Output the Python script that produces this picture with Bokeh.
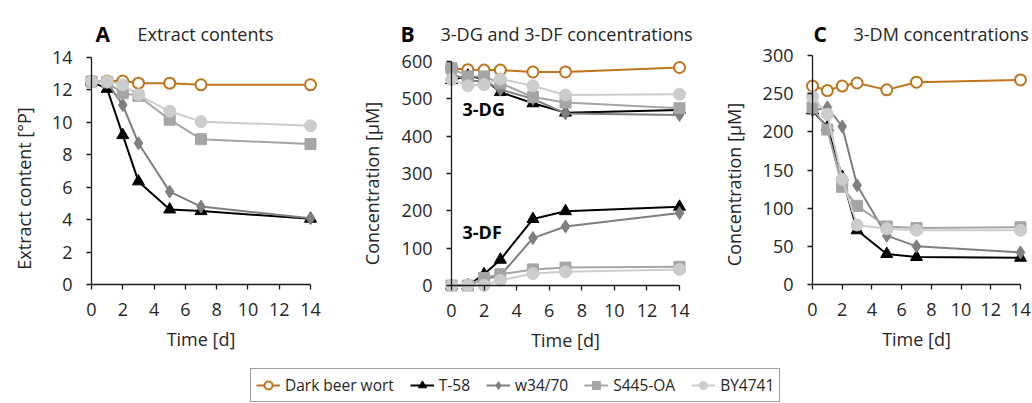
import math
from bokeh.plotting import figure
from bokeh.models import Range1d, LinearAxis, FixedTicker, Label, Legend, LegendItem
from bokeh.layouts import column, row
from bokeh.embed import file_html
from bokeh.resources import INLINE

# ---------------- data ----------------
time_d = [0, 1, 2, 3, 5, 7, 14]
series_names = ["Dark beer wort", "T-58", "w34/70", "S445-OA", "BY4741"]
x_ticks = [0, 2, 4, 6, 8, 10, 12, 14]

# A: extract content [°P]
extract_dark = [12.5, 12.53, 12.53, 12.4, 12.4, 12.3, 12.3]
extract_t58 = [12.5, 12.05, 9.2, 6.35, 4.62, 4.52, 4.05]
extract_w34 = [12.5, 12.45, 11.05, 8.7, 5.72, 4.8, 4.08]
extract_s445 = [12.5, 12.45, 11.78, 11.62, 10.15, 8.95, 8.65]
extract_by = [12.5, 12.5, 12.3, 11.68, 10.67, 10.03, 9.78]
extract_ticks = [0, 2, 4, 6, 8, 10, 12, 14]

# B: 3-DG and 3-DF [µM]
dg_dark = [582, 578, 577, 577, 572, 572, 584]
dg_t58 = [550, 562, 553, 518, 488, 463, 470]
dg_w34 = [568, 548, 548, 525, 500, 461, 457]
dg_s445 = [582, 560, 560, 542, 505, 490, 475]
dg_by = [552, 535, 538, 553, 535, 510, 512]
df_t58 = [0, 0, 30, 69, 178, 199, 211]
df_w34 = [0, 0, 17, 27, 127, 158, 194]
df_s445 = [0, 0, 20, 30, 43, 48, 50]
df_by = [0, 0, 0, 14, 32, 37, 43]
conc_b_ticks = [0, 100, 200, 300, 400, 500, 600]

# C: 3-DM [µM]
dm_dark = [260, 254, 260, 264, 255, 265, 268]
dm_t58 = [228, 206, 141, 71, 40, 36, 35]
dm_w34 = [228, 232, 207, 130, 64, 50, 42]
dm_s445 = [232, 203, 128, 103, 76, 74, 75]
dm_by = [246, 223, 138, 78, 73, 71, 71]
conc_c_ticks = [0, 50, 100, 150, 200, 250, 300]

# ---------------- styles ----------------
FONT = "Open Sans"
TXT = "#262626"
AX = "#1a1a1a"
FS = "18px"
STYLES = {
    "Dark beer wort": dict(color="#C0741C", marker="circle", size=11, fill="white", lw=2),
    "T-58": dict(color="#000000", marker="triangle", size=12, fill="#000000", lw=1),
    "w34/70": dict(color="#7F7F7F", marker="diamond", size=13, fill="#7F7F7F", lw=1),
    "S445-OA": dict(color="#A5A5A5", marker="square", size=11, fill="#A5A5A5", lw=1),
    "BY4741": dict(color="#CCCCCC", marker="circle", size=12, fill="#CCCCCC", lw=1),
}


def add_series(p, x, y, name):
    s = STYLES[name]
    r1 = p.line(x, y, line_color=s["color"], line_width=2)
    r2 = p.scatter(x, y, marker=s["marker"], size=s["size"], fill_color=s["fill"],
                   line_color=s["color"], line_width=s["lw"])
    return r1, r2


def style_axis(ax, standoff):
    ax.axis_line_color = AX
    ax.axis_line_width = 1.3
    ax.major_tick_line_color = AX
    ax.major_tick_line_width = 1.3
    ax.major_tick_in = 0
    ax.major_tick_out = 5
    ax.minor_tick_line_color = None
    ax.major_label_text_font = FONT
    ax.major_label_text_font_size = FS
    ax.major_label_text_color = TXT
    ax.major_label_standoff = standoff
    ax.axis_label_text_font = FONT
    ax.axis_label_text_font_size = FS
    ax.axis_label_text_font_style = "normal"
    ax.axis_label_text_color = TXT
    ax.axis_label_standoff = 8


def make_panel(fig_left, fig_width, fig_height, x0px, x14px, ymax, ytoppx, y0px,
               yticks, ylabel, ylabel_x, ylabel_y, letter, letter_x, title, title_x, title_base):
    # the frame covers the whole figure; ranges chosen so data lands on the target pixels
    sx = (x14px - x0px) / 14.0
    sy = (y0px - ytoppx) / ymax
    xs = (fig_left - x0px) / sx
    xe = (fig_left + fig_width - x0px) / sx
    ye = y0px / sy
    ys = (y0px - fig_height) / sy
    p = figure(width=fig_width, height=fig_height,
               x_range=Range1d(xs, xe), y_range=Range1d(ys, ye),
               min_border=0, x_axis_location=None, y_axis_location=None,
               toolbar_location=None, output_backend="svg")
    p.grid.visible = False
    p.outline_line_color = None
    p.background_fill_color = "white"
    p.border_fill_color = "white"

    yax = LinearAxis(fixed_location=0, bounds=(0, ymax), ticker=FixedTicker(ticks=yticks))
    style_axis(yax, 14)
    p.add_layout(yax, "left")
    xax = LinearAxis(fixed_location=0, bounds=(0, 14), ticker=FixedTicker(ticks=x_ticks),
                     axis_label="Time [d]")
    style_axis(xax, 13)
    p.add_layout(xax, "below")

    def dx(px):
        return (px - x0px) / sx

    def dy(py):
        return (y0px - py) / sy

    p.add_layout(Label(x=dx(ylabel_x), y=dy(ylabel_y), text=ylabel, angle=90, angle_units="deg",
                       text_align="center", text_baseline="middle", text_font=FONT,
                       text_font_size=FS, text_color=TXT))
    p.add_layout(Label(x=dx(letter_x), y=dy(title_base), text=letter, text_align="left",
                       text_baseline="alphabetic", text_font=FONT, text_font_size="21px",
                       text_font_style="bold", text_color="#000000"))
    p.add_layout(Label(x=dx(title_x), y=dy(title_base), text=title, text_align="left",
                       text_baseline="alphabetic", text_font=FONT, text_font_size=FS,
                       text_color=TXT))
    return p, dx, dy


H = 350
pA, _, _ = make_panel(0, 350, H, 91, 310, 14, 56.7, 284, extract_ticks,
                      "Extract content [°P]", 23, 188, "A", 95, "Extract contents", 137, 33)
add_series(pA, time_d, extract_dark, "Dark beer wort")
add_series(pA, time_d, extract_t58, "T-58")
add_series(pA, time_d, extract_w34, "w34/70")
add_series(pA, time_d, extract_s445, "S445-OA")
add_series(pA, time_d, extract_by, "BY4741")

pB, bdx, bdy = make_panel(350, 365, H, 451, 679, 600, 61, 285, conc_b_ticks,
                          "Concentration [µM]", 371, 183, "B", 400, "3-DG and 3-DF concentrations", 440, 33)
add_series(pB, time_d, dg_dark, "Dark beer wort")
add_series(pB, time_d, dg_t58, "T-58")
add_series(pB, time_d, df_t58, "T-58")
add_series(pB, time_d, dg_w34, "w34/70")
add_series(pB, time_d, df_w34, "w34/70")
add_series(pB, time_d, dg_s445, "S445-OA")
add_series(pB, time_d, df_s445, "S445-OA")
add_series(pB, time_d, dg_by, "BY4741")
add_series(pB, time_d, df_by, "BY4741")
for txt, yy in [("3-DG", 108), ("3-DF", 231)]:
    pB.add_layout(Label(x=bdx(462), y=bdy(yy), text=txt, text_align="left", text_baseline="middle",
                        text_font=FONT, text_font_size=FS, text_font_style="bold",
                        text_color="#000000"))

pC, _, _ = make_panel(715, 317, H, 812, 1020, 300, 55, 284, conc_c_ticks,
                      "Concentration [µM]", 733, 184, "C", 813, "3-DM concentrations", 853, 33)
add_series(pC, time_d, dm_dark, "Dark beer wort")
add_series(pC, time_d, dm_t58, "T-58")
add_series(pC, time_d, dm_w34, "w34/70")
add_series(pC, time_d, dm_s445, "S445-OA")
add_series(pC, time_d, dm_by, "BY4741")

# ---------------- legend strip ----------------
LH = 53
lf = figure(width=1032, height=LH, x_range=Range1d(100, 101), y_range=Range1d(100, 101),
            min_border=0, x_axis_location=None, y_axis_location=None,
            toolbar_location=None, output_backend="svg")
lf.grid.visible = False
lf.outline_line_color = None
items = []
for name, ys_ in zip(series_names, [extract_dark, extract_t58, extract_w34, extract_s445, extract_by]):
    r1, r2 = add_series(lf, time_d, ys_, name)
    items.append(LegendItem(label=name, renderers=[r1, r2]))
leg = Legend(items=items, orientation="horizontal", location=(250, 1),
             border_line_color="#404040", border_line_width=1,
             label_text_font=FONT, label_text_font_size="15.5px", label_text_color=TXT,
             glyph_width=24, glyph_height=20, label_standoff=5, spacing=16,
             padding=5, margin=0, label_height=20)
lf.add_layout(leg, "center")

layout = column(row(pA, pB, pC), lf)
open("out.html", "w").write(file_html(layout, INLINE))
